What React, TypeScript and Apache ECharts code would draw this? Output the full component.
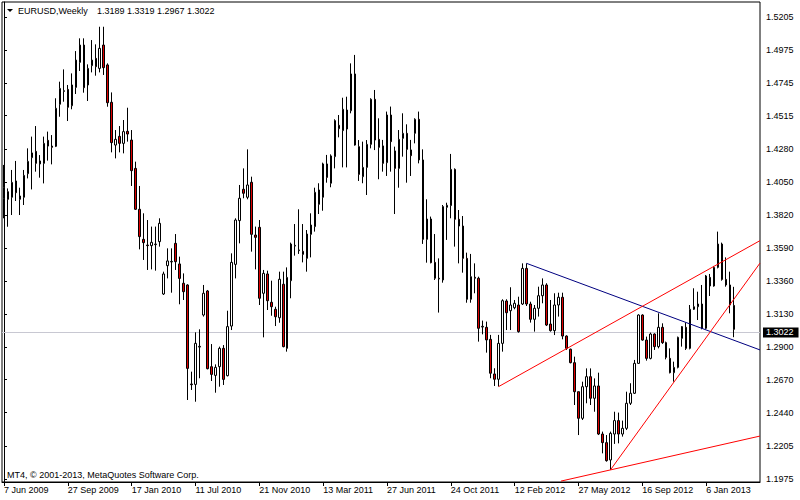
import React, { useEffect, useRef } from "react";
import * as echarts from "echarts";

const symbolName = "EURUSD";
const periodName = "Weekly";
const copyrightText = "MT4, \u00A9 2001-2013, MetaQuotes Software Corp.";

const xTickLabels = [
  "7 Jun 2009", "27 Sep 2009", "17 Jan 2010", "11 Jul 2010", "21 Nov 2010", "13 Mar 2011",
  "27 Jun 2011", "24 Oct 2011", "12 Feb 2012", "27 May 2012", "16 Sep 2012", "6 Jan 2013",
];
const barsPerLabel = 16;
const totalSlots = 190;

const yTickLabels = [
  "1.5205", "1.4975", "1.4745", "1.4515", "1.4280", "1.4050", "1.3820", "1.3590",
  "1.3360", "1.3130", "1.2900", "1.2670", "1.2440", "1.2205", "1.1975",
];
const yMin = 1.19548;
const yMax = 1.531;

const opens = [
  1.3938, 1.3984, 1.3945, 1.4059, 1.3954, 1.3945, 1.4110, 1.4222, 1.4266, 1.4178,
  1.4182, 1.4343, 1.4303, 1.4301, 1.4595, 1.4685, 1.4699, 1.4585, 1.4713, 1.4888,
  1.5009, 1.4730, 1.4865, 1.4916, 1.4846, 1.5009, 1.4870, 1.4609, 1.4310, 1.4371,
  1.4322, 1.4406, 1.4345, 1.4147, 1.3861, 1.3651, 1.3611, 1.3607, 1.3614, 1.3635,
  1.3269, 1.3467, 1.3493, 1.3623, 1.3479, 1.3344, 1.3332, 1.2640, 1.2637, 1.2898,
  1.3122, 1.3290, 1.2761, 1.2700, 1.2761, 1.2889, 1.2698, 1.3045, 1.3476, 1.3782,
  1.4001, 1.3945, 1.4050, 1.3681, 1.3735, 1.3274, 1.3409, 1.3211, 1.3162, 1.3103,
  1.3337, 1.2889, 1.3362, 1.3604, 1.3572, 1.3567, 1.3518, 1.3686, 1.3740, 1.3996,
  1.3945, 1.4178, 1.4043, 1.4229, 1.4448, 1.4411, 1.4422, 1.4550, 1.4807, 1.4299,
  1.4089, 1.4154, 1.4315, 1.4630, 1.4350, 1.4304, 1.4187, 1.4520, 1.4269, 1.4147,
  1.4357, 1.4392, 1.4276, 1.4392, 1.4490, 1.4206, 1.3651, 1.3793, 1.3490, 1.3374,
  1.3367, 1.3875, 1.3887, 1.4140, 1.3791, 1.3744, 1.3518, 1.3232, 1.3386, 1.3379,
  1.3038, 1.3036, 1.2952, 1.2710, 1.2673, 1.2924, 1.3220, 1.3152, 1.3173, 1.3192,
  1.3199, 1.3448, 1.3199, 1.3092, 1.3169, 1.3257, 1.3332, 1.3059, 1.3013, 1.3192,
  1.3246, 1.2975, 1.2883, 1.2789, 1.2586, 1.2400, 1.2621, 1.2691, 1.2540, 1.2626,
  1.2290, 1.2230, 1.2109, 1.2290, 1.2384, 1.2290, 1.2330, 1.2505, 1.2575, 1.2784,
  1.3122, 1.2947, 1.2819, 1.2989, 1.2901, 1.3036, 1.2929, 1.2819, 1.2719, 1.2756,
  1.2959, 1.3036, 1.2889, 1.3162, 1.3180, 1.3199, 1.3029, 1.3385, 1.3325, 1.3455,
  1.3618, 1.3371, 1.3332, 1.3189,
];

const highs = [
  1.4171, 1.4007, 1.4136, 1.4199, 1.4012, 1.4136, 1.4287, 1.4369, 1.4443, 1.4240,
  1.4369, 1.4404, 1.4380, 1.4637, 1.4753, 1.4839, 1.4730, 1.4811, 1.4967, 1.5056,
  1.5056, 1.4874, 1.5044, 1.5014, 1.5137, 1.5137, 1.4881, 1.4678, 1.4415, 1.4443,
  1.4485, 1.4571, 1.4415, 1.4194, 1.4024, 1.3833, 1.3786, 1.3740, 1.3740, 1.3798,
  1.3425, 1.3588, 1.3588, 1.3688, 1.3530, 1.3413, 1.3337, 1.2726, 1.3001, 1.3022,
  1.3332, 1.3297, 1.2919, 1.2777, 1.2901, 1.2912, 1.3152, 1.3553, 1.3798, 1.4031,
  1.4147, 1.4280, 1.4089, 1.3740, 1.3786, 1.3437, 1.3432, 1.3362, 1.3180, 1.3425,
  1.3425, 1.3455, 1.3628, 1.3758, 1.3861, 1.3758, 1.3716, 1.3833, 1.4012, 1.4043,
  1.4187, 1.4241, 1.4245, 1.4490, 1.4520, 1.4641, 1.4648, 1.4881, 1.4940, 1.4345,
  1.4334, 1.4345, 1.4637, 1.4695, 1.4497, 1.4346, 1.4544, 1.4579, 1.4299, 1.4415,
  1.4532, 1.4455, 1.4346, 1.4497, 1.4544, 1.4280, 1.3931, 1.3810, 1.3688, 1.3518,
  1.3891, 1.3907, 1.4248, 1.4147, 1.3856, 1.3814, 1.3558, 1.3549, 1.3483, 1.3390,
  1.3083, 1.3076, 1.2983, 1.2750, 1.2983, 1.3232, 1.3232, 1.3316, 1.3227, 1.3250,
  1.3483, 1.3483, 1.3215, 1.3192, 1.3320, 1.3378, 1.3344, 1.3227, 1.3274, 1.3278,
  1.3278, 1.2980, 1.2887, 1.2831, 1.2586, 1.2656, 1.2749, 1.2749, 1.2679, 1.2719,
  1.2307, 1.2283, 1.2307, 1.2446, 1.2440, 1.2384, 1.2586, 1.2645, 1.2808, 1.3127,
  1.3127, 1.2971, 1.2999, 1.2994, 1.3134, 1.3064, 1.2936, 1.2889, 1.2796, 1.2971,
  1.3045, 1.3069, 1.3192, 1.3309, 1.3285, 1.3332, 1.3402, 1.3409, 1.3465, 1.3705,
  1.3628, 1.3525, 1.3425, 1.3319,
];

const lows = [
  1.3798, 1.3739, 1.3821, 1.3919, 1.3821, 1.3891, 1.4077, 1.4000, 1.4124, 1.4082,
  1.4042, 1.4201, 1.4175, 1.4296, 1.4508, 1.4613, 1.4478, 1.4560, 1.4667, 1.4828,
  1.4676, 1.4618, 1.4818, 1.4795, 1.4818, 1.4800, 1.4578, 1.4259, 1.4217, 1.4259,
  1.4252, 1.4334, 1.4024, 1.3856, 1.3581, 1.3507, 1.3437, 1.3441, 1.3432, 1.3600,
  1.3262, 1.3378, 1.3278, 1.3437, 1.3197, 1.3227, 1.2528, 1.2598, 1.2516, 1.2680,
  1.3111, 1.2742, 1.2661, 1.2579, 1.2621, 1.2633, 1.2693, 1.3017, 1.3378, 1.3623,
  1.3938, 1.3931, 1.3565, 1.3441, 1.3192, 1.2966, 1.3157, 1.3117, 1.3045, 1.3068,
  1.2896, 1.2866, 1.3239, 1.3537, 1.3549, 1.3490, 1.3425, 1.3525, 1.3705, 1.3828,
  1.3851, 1.4047, 1.4015, 1.4147, 1.4364, 1.4154, 1.4154, 1.4532, 1.4306, 1.4059,
  1.4043, 1.3961, 1.4287, 1.4275, 1.4071, 1.4124, 1.4094, 1.4124, 1.3828, 1.4012,
  1.4229, 1.4047, 1.4094, 1.4322, 1.4182, 1.3619, 1.3488, 1.3483, 1.3367, 1.3139,
  1.3348, 1.3647, 1.3798, 1.3600, 1.3483, 1.3418, 1.3208, 1.3208, 1.3274, 1.2936,
  1.2987, 1.2859, 1.2680, 1.2626, 1.2622, 1.2866, 1.3017, 1.3017, 1.3162, 1.2999,
  1.3192, 1.3185, 1.3069, 1.3006, 1.3111, 1.3204, 1.3045, 1.3006, 1.2982, 1.3111,
  1.2952, 1.2878, 1.2784, 1.2493, 1.2283, 1.2388, 1.2505, 1.2493, 1.2446, 1.2283,
  1.2155, 1.2097, 1.2039, 1.2221, 1.2225, 1.2272, 1.2318, 1.2493, 1.2570, 1.2780,
  1.2943, 1.2803, 1.2812, 1.2878, 1.2889, 1.2920, 1.2812, 1.2714, 1.2656, 1.2749,
  1.2901, 1.2878, 1.2882, 1.3157, 1.3087, 1.3022, 1.3022, 1.3255, 1.3320, 1.3448,
  1.3362, 1.3320, 1.3134, 1.2967,
];

const closes = [
  1.4012, 1.3931, 1.4049, 1.3977, 1.3931, 1.4098, 1.4196, 1.4255, 1.4182, 1.4199,
  1.4322, 1.4303, 1.4294, 1.4567, 1.4706, 1.4690, 1.4574, 1.4730, 1.4904, 1.5009,
  1.4711, 1.4846, 1.4904, 1.4858, 1.4986, 1.4851, 1.4606, 1.4327, 1.4350, 1.4322,
  1.4404, 1.4387, 1.4131, 1.3861, 1.3670, 1.3628, 1.3607, 1.3630, 1.3618, 1.3763,
  1.3409, 1.3500, 1.3497, 1.3495, 1.3378, 1.3285, 1.2749, 1.2635, 1.2924, 1.2903,
  1.3274, 1.2747, 1.2707, 1.2756, 1.2889, 1.2672, 1.3041, 1.3490, 1.3786, 1.3938,
  1.3973, 1.4031, 1.3686, 1.3665, 1.3239, 1.3413, 1.3222, 1.3180, 1.3110, 1.3372,
  1.2901, 1.3385, 1.3618, 1.3609, 1.3577, 1.3546, 1.3688, 1.3751, 1.3980, 1.3896,
  1.4178, 1.4084, 1.4234, 1.4481, 1.4425, 1.4560, 1.4555, 1.4807, 1.4310, 1.4105,
  1.4154, 1.4315, 1.4630, 1.4345, 1.4294, 1.4182, 1.4520, 1.4334, 1.4147, 1.4350,
  1.4392, 1.4280, 1.4236, 1.4490, 1.4206, 1.3651, 1.3793, 1.3488, 1.3379, 1.3379,
  1.3880, 1.3889, 1.4140, 1.3791, 1.3744, 1.3518, 1.3232, 1.3390, 1.3379, 1.3029,
  1.3043, 1.2948, 1.2715, 1.2673, 1.2924, 1.3222, 1.3138, 1.3192, 1.3204, 1.3006,
  1.3448, 1.3199, 1.3092, 1.3169, 1.3257, 1.3332, 1.3052, 1.3013, 1.3192, 1.3246,
  1.2975, 1.2889, 1.2789, 1.2586, 1.2400, 1.2621, 1.2691, 1.2540, 1.2626, 1.2290,
  1.2230, 1.2104, 1.2295, 1.2384, 1.2290, 1.2330, 1.2505, 1.2575, 1.2784, 1.3122,
  1.2947, 1.2819, 1.2989, 1.2901, 1.3036, 1.2929, 1.2826, 1.2719, 1.2756, 1.2966,
  1.3041, 1.2889, 1.3162, 1.3180, 1.3199, 1.3029, 1.3395, 1.3325, 1.3455, 1.3618,
  1.3371, 1.3332, 1.3192, 1.3022,
];

// Trend lines: [bar index, price] anchor pairs
const blueTrend = [[131, 1.3483], [189.5, 1.2878]];
const redChannel = [[124, 1.2622], [189.5, 1.3642]];
const redSteep = [[152, 1.2039], [189.5, 1.3485]];
const redLower = [[139.6, 1.1961], [189.5, 1.2276]];

const FONT = "Liberation Sans";
const BEAR = "#DD0000";

function buildOption() {
  const categories = Array.from({ length: totalSlots }, (_, i) => String(i));
  const candles = opens.map((o, i) => [o, closes[i], lows[i], highs[i]]);
  const last = opens.length - 1;
  const lastClose = closes[last];
  const ohlcText = [opens[last], highs[last], lows[last], closes[last]].map((v) => v.toFixed(4)).join(" ");
  const yTicks = yTickLabels.map(Number);
  const xTickIdx = xTickLabels.map((_, k) => k * barsPerLabel);

  const trend = (data: number[][], color: string) => ({
    type: "line",
    xAxisIndex: 1,
    yAxisIndex: 0,
    data,
    symbol: "none",
    silent: true,
    clip: true,
    z: 4,
    lineStyle: { color, width: 1 },
  });

  return {
    animation: false,
    backgroundColor: "#ffffff",
    textStyle: { fontFamily: FONT },
    grid: {
      left: 2,
      right: 40,
      top: 2,
      bottom: 18,
      show: true,
      borderColor: "#000",
      borderWidth: 1,
      backgroundColor: "transparent",
    },
    xAxis: [
      {
        type: "category",
        data: categories,
        boundaryGap: true,
        axisLine: { show: true, onZero: false, lineStyle: { color: "#000", width: 1 } },
        axisTick: {
          show: true,
          interval: (idx: number) => xTickIdx.includes(idx),
          alignWithLabel: true,
          length: 4,
          lineStyle: { color: "#000" },
        },
        axisLabel: {
          interval: (idx: number) => xTickIdx.includes(idx),
          formatter: (_v: string, idx: number) =>
            idx % barsPerLabel === 0 ? xTickLabels[idx / barsPerLabel] ?? "" : "",
          align: "left",
          margin: 3,
          color: "#000",
          fontSize: 9,
          fontFamily: FONT,
        },
        splitLine: { show: false },
      },
      {
        type: "value",
        gridIndex: 0,
        min: -0.5,
        max: totalSlots - 0.5,
        show: false,
      },
    ],
    yAxis: [
      {
        type: "value",
        position: "right",
        min: yMin,
        max: yMax,
        axisLine: { show: true, lineStyle: { color: "#000", width: 1 } },
        axisTick: { show: true, length: 3, customValues: yTicks, lineStyle: { color: "#000" } },
        axisLabel: {
          customValues: yTicks,
          formatter: (v: number) => v.toFixed(4),
          margin: 6,
          color: "#000",
          fontSize: 9,
          fontFamily: FONT,
        },
        splitLine: { show: false },
      },
    ],
    series: [
      {
        type: "candlestick",
        xAxisIndex: 0,
        yAxisIndex: 0,
        data: candles,
        barWidth: 2,
        z: 3,
        itemStyle: {
          color: "#ffffff",
          color0: BEAR,
          borderColor: "#000",
          borderColor0: "#000",
          borderColorDoji: "#000",
          borderWidth: 1,
        },
        markLine: {
          silent: true,
          z: 1,
          symbol: ["none", "none"],
          animation: false,
          lineStyle: { color: "#C8C8D2", width: 1, type: "solid" },
          label: {
            show: true,
            position: "end",
            distance: 3,
            formatter: lastClose.toFixed(4),
            color: "#fff",
            backgroundColor: "#000",
            padding: [1, 5, 0, 3],
            fontSize: 9,
            fontFamily: FONT,
          },
          data: [{ yAxis: lastClose }],
        },
      },
      trend(blueTrend, "#000080"),
      trend(redChannel, "#FF0000"),
      trend(redSteep, "#FF0000"),
      trend(redLower, "#FF0000"),
    ],
    graphic: [
      {
        type: "polygon",
        shape: { points: [[7, 9], [13, 9], [10, 12]] },
        style: { fill: "#000" },
        silent: true,
      },
      {
        type: "text",
        x: 18,
        y: 11,
        style: {
          text: `${symbolName},${periodName}`,
          fill: "#000",
          fontSize: 9,
          fontFamily: FONT,
          verticalAlign: "middle",
        },
        silent: true,
      },
      {
        type: "text",
        x: 97,
        y: 11,
        style: { text: ohlcText, fill: "#000", fontSize: 9, fontFamily: FONT, verticalAlign: "middle" },
        silent: true,
      },
      {
        type: "text",
        x: 7,
        y: 475,
        style: { text: copyrightText, fill: "#000", fontSize: 9, fontFamily: FONT, verticalAlign: "middle" },
        silent: true,
      },
    ],
  };
}

export default function App() {
  const ref = useRef<HTMLDivElement>(null);
  useEffect(() => {
    if (!ref.current) return;
    const chart = echarts.init(ref.current, null, { renderer: "svg" });
    chart.setOption(buildOption() as any);
    return () => chart.dispose();
  }, []);
  return (
    <div
      ref={ref}
      style={{ position: "absolute", left: 0, top: 0, width: 800, height: 500 }}
    />
  );
}
